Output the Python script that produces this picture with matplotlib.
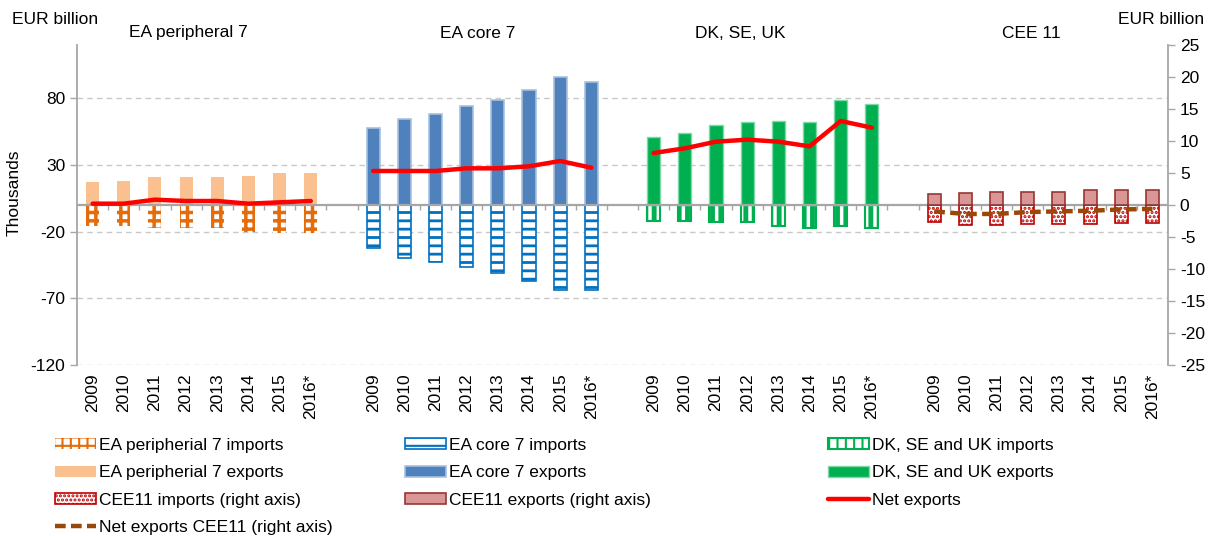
import numpy as np
import matplotlib
matplotlib.use("Agg")
from matplotlib import pyplot as plt
from matplotlib.transforms import blended_transform_factory

plt.rcParams['font.family'] = ['Liberation Sans', 'DejaVu Sans']
plt.rcParams['axes.unicode_minus'] = False

years = ['2009', '2010', '2011', '2012', '2013', '2014', '2015', '2016*']
groups = ['EA peripheral 7', 'EA core 7', 'DK, SE, UK', 'CEE 11']

# EUR billion, left axis
periph_exp = [17, 18, 21, 21, 21, 22, 24, 24]
periph_imp = [-16, -16, -17, -17, -17, -20, -21, -21]
periph_net = [1, 1, 4, 3, 3, 1, 2, 3]

core_exp = [57.5, 64.5, 68.5, 74.5, 79, 86, 96, 92]
core_imp = [-32.5, -39.5, -43, -46.5, -51, -57, -64, -64]
core_net = [25.5, 25.5, 25.5, 27.5, 27.5, 29, 33, 28]

dk_exp = [51, 54, 60, 62, 63, 62, 79, 76]
dk_imp = [-12, -12, -13, -13, -16, -17, -16, -17]
dk_net = [39, 42.5, 47.5, 49, 47.5, 44, 63, 58]

# right axis
cee_exp = [1.65, 1.8, 2.0, 2.0, 2.0, 2.4, 2.4, 2.4]
cee_imp = [-2.7, -3.2, -3.2, -3.0, -3.0, -3.0, -2.8, -2.8]
cee_net = [-1.0, -1.4, -1.4, -1.1, -1.0, -0.9, -0.7, -0.6]

W, H = 1211, 536
fig = plt.figure(figsize=(W / 100, H / 100), dpi=100)
ax = fig.add_axes([77 / W, (H - 365) / H, (1168 - 77) / W, (365 - 45) / H])
ax2 = ax.twinx()

n = len(years)
pos = [np.arange(n) + g * (n + 1) for g in range(4)]
ncat = 4 * n + 3
bw = 0.42

def set_hlw(bars, lw):
    for b in bars:
        if hasattr(b, 'set_hatch_linewidth'):
            b.set_hatch_linewidth(lw)

gray = '#A6A6A6'
fs = 12.5

# EA peripheral
plt.rcParams['hatch.linewidth'] = 2.5
b_pi = ax.bar(pos[0], periph_imp, bw, color='white', edgecolor='#E46C0A', hatch='++', linewidth=0)
set_hlw(b_pi, 2.5)
b_pe = ax.bar(pos[0], periph_exp, bw, color='#FAC090', linewidth=0)

# EA core
plt.rcParams['hatch.linewidth'] = 2.0
b_ci = ax.bar(pos[1], core_imp, bw, color='white', edgecolor='#0070C0', hatch='--', linewidth=1.2)
set_hlw(b_ci, 2.0)
b_ce = ax.bar(pos[1], core_exp, bw, color='#4F81BD', edgecolor='#A7C0DE', linewidth=1.2)

# DK SE UK
plt.rcParams['hatch.linewidth'] = 3.5
b_di = ax.bar(pos[2], dk_imp, bw, color='white', edgecolor='#00B050', hatch='||', linewidth=1.5)
set_hlw(b_di, 3.5)
b_de = ax.bar(pos[2], dk_exp, bw, color='#00B050', edgecolor='#7FD8A7', linewidth=1.0)

# CEE on right axis
plt.rcParams['hatch.linewidth'] = 1.5
b_ei = ax2.bar(pos[3], cee_imp, bw, color='white', edgecolor='#C00000', hatch='....', linewidth=1.2)
set_hlw(b_ei, 1.5)
b_ee = ax2.bar(pos[3], cee_exp, bw, color='#D99694', edgecolor='#953735', linewidth=1.2)

ln_net, = ax.plot(pos[0], periph_net, color='#FF0000', lw=3.2, solid_capstyle='round')
ax.plot(pos[1], core_net, color='#FF0000', lw=3.2, solid_capstyle='round')
ax.plot(pos[2], dk_net, color='#FF0000', lw=3.2, solid_capstyle='round')
ln_cee, = ax2.plot(pos[3], cee_net, color='#984807', lw=3.2, ls=(0, (2.4, 1.2)))

# axes
ax.set_xlim(-0.5, ncat - 0.5)
ax.set_ylim(-120, 120)
ax2.set_ylim(-25, 25)
ax.set_yticks([-120, -70, -20, 30, 80])
ax2.set_yticks(np.arange(-25, 26, 5))
ax.yaxis.grid(True, color='#C8C8C8', ls=(0, (4, 3)), lw=1)
ax.set_axisbelow(True)
ax.axhline(0, color=gray, lw=1.6, zorder=1.5)

for a in (ax, ax2):
    a.spines['top'].set_visible(False)
    a.spines['bottom'].set_visible(False)
    a.spines['left'].set_color(gray)
    a.spines['right'].set_color(gray)
    a.spines['left'].set_linewidth(1.3)
    a.spines['right'].set_linewidth(1.3)
    a.tick_params(axis='y', colors=gray, labelcolor='black', labelsize=fs, length=5, width=1)
ax2.spines['left'].set_visible(False)
ax.spines['right'].set_visible(False)

# small ticks on the zero line between categories
ax.vlines(np.arange(ncat - 1) + 0.5, -4, 0, color=gray, lw=1, zorder=1.5)

ax.set_xticks(np.concatenate(pos))
ax.set_xticklabels(years * 4, rotation=90, fontsize=fs)
ax.tick_params(axis='x', length=0, pad=6)

ax.set_ylabel('Thousands', fontsize=fs)
ax.yaxis.set_label_coords(-0.051, 0.5375)

tr = blended_transform_factory(ax.transData, ax.transAxes)
for gx, name in zip([3.06, 12.36, 20.77, 30.1], groups):
    ax.text(gx, 1.0375, name, transform=tr, ha='center', va='center', fontsize=fs)

fig.text(12 / W, 1 - 20 / H, 'EUR billion', ha='left', va='center', fontsize=fs)
fig.text(1118 / W, 1 - 20 / H, 'EUR billion', ha='left', va='center', fontsize=fs)

# legend, three separate columns
cols = [
    ([b_pi, b_pe, b_ei, ln_cee],
     ['EA peripherial 7 imports', 'EA peripherial 7 exports',
      'CEE11 imports (right axis)', 'Net exports CEE11 (right axis)'], 55),
    ([b_ci, b_ce, b_ee],
     ['EA core 7 imports', 'EA core 7 exports', 'CEE11 exports (right axis)'], 405),
    ([b_di, b_de, ln_net],
     ['DK, SE and UK imports', 'DK, SE and UK exports', 'Net exports'], 828),
]
for handles, labels, x0 in cols:
    fig.legend(handles, labels, loc='upper left', bbox_to_anchor=(x0 / W, 1 - 438 / H),
               frameon=False, fontsize=fs, borderpad=0, borderaxespad=0,
               handlelength=2.35, handletextpad=0.2, labelspacing=0.71,
               handleheight=0.6)

fig.savefig('out.png', dpi=100)
